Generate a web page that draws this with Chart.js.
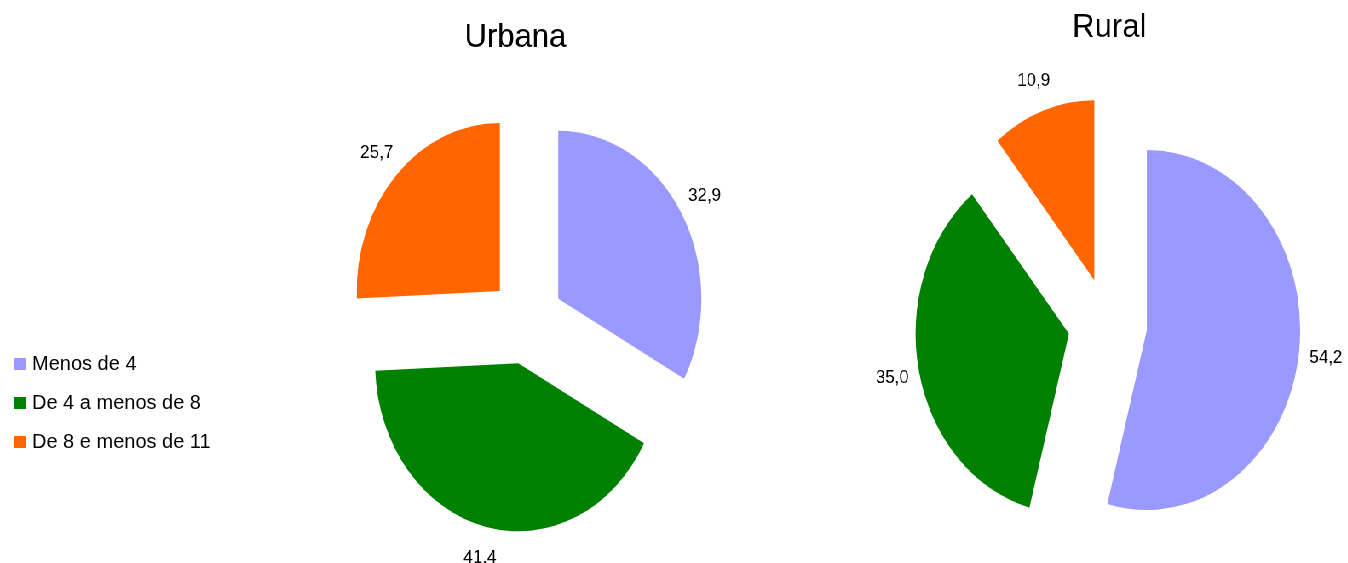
<!DOCTYPE html>
<html>
<head>
<meta charset="utf-8">
<script src="https://cdn.jsdelivr.net/npm/chart.js@4/dist/chart.umd.min.js"></script>
<style>
  html, body { margin: 0; padding: 0; background: #fff; }
  body { width: 1348px; height: 563px; position: relative; overflow: hidden; font-family: "Liberation Sans", Arial, sans-serif; }
  /* the original figure is squashed horizontally, so the pies are ellipses */
  #fig { position: absolute; left: 0; top: 0; width: 1582px; height: 563px; transform: scaleX(0.852); transform-origin: 0 0; }
  .pie { position: absolute; top: 0; height: 563px; }
  #legend { position: absolute; left: 14px; top: 352px; font-size: 20px; color: #000; }
  #legend .item { display: flex; align-items: center; height: 23px; margin-bottom: 16px; white-space: nowrap; }
  #legend .box { width: 12px; height: 12px; margin-right: 6px; }
</style>
</head>
<body>
<div id="fig">
  <div class="pie" style="left:0;width:900px"><canvas id="urbana"></canvas></div>
  <div class="pie" style="left:790px;width:792px"><canvas id="rural"></canvas></div>
</div>
<div id="legend"></div>
<script>
const categories = ['Menos de 4', 'De 4 a menos de 8', 'De 8 e menos de 11'];
const urbanaValues = [32.9, 41.4, 25.7];
const ruralValues = [54.2, 35.0, 10.9];
const sliceColors = ['#9999FF', '#008000', '#FF6600'];

const SQUASH = 0.852;   // same as the css scaleX on #fig
const TEXT_SX = 0.94;   // how wide the text looks in the picture
const FONT = '"Liberation Sans", Arial, sans-serif';

function fmt(v) {
  return v.toFixed(1).replace('.', ',');
}

// text drawn on the squashed canvas has to be stretched back
function drawText(ctx, txt, x, y) {
  ctx.save();
  ctx.translate(x, y);
  ctx.scale(TEXT_SX / SQUASH, 1);
  ctx.fillText(txt, 0, 0);
  ctx.restore();
}

const pieDecor = {
  id: 'pieDecor',
  afterDatasetUpdate(chart, args, opts) {
    // pull every slice out along its middle angle
    args.meta.data.forEach(arc => {
      const mid = (arc.startAngle + arc.endAngle) / 2;
      const d = arc.outerRadius * opts.explode;
      arc.x += Math.cos(mid) * d;
      arc.y += Math.sin(mid) * d;
    });
  },
  afterDatasetsDraw(chart, args, opts) {
    const ctx = chart.ctx;
    const values = chart.data.datasets[0].data;
    ctx.save();
    ctx.fillStyle = '#000';
    ctx.textAlign = 'center';
    ctx.textBaseline = 'middle';
    ctx.font = '18px ' + FONT;
    chart.getDatasetMeta(0).data.forEach((arc, i) => {
      const mid = (arc.startAngle + arc.endAngle) / 2;
      const r = arc.outerRadius + opts.labelGap;
      drawText(ctx, fmt(values[i]), arc.x + Math.cos(mid) * r, arc.y + Math.sin(mid) * r);
    });
    ctx.font = '33px ' + FONT;
    ctx.textBaseline = 'alphabetic';
    drawText(ctx, opts.title, opts.titleX, opts.titleY);
    ctx.restore();
  }
};

function makePie(id, values, title, padding, titleX, titleY) {
  return new Chart(document.getElementById(id), {
    type: 'pie',
    data: {
      labels: categories,
      datasets: [{
        data: values,
        backgroundColor: sliceColors,
        borderWidth: 0,
        clip: false
      }]
    },
    plugins: [pieDecor],
    options: {
      responsive: true,
      maintainAspectRatio: false,
      animation: false,
      events: [],
      layout: { padding: padding },
      plugins: {
        legend: { display: false },
        tooltip: { enabled: false },
        pieDecor: { explode: 0.258, labelGap: 32, title: title, titleX: titleX, titleY: titleY }
      }
    }
  });
}

makePie('urbana', urbanaValues, 'Urbana', { left: 450, right: 114, top: 153, bottom: 74 }, 605, 47);
makePie('rural', ruralValues, 'Rural', { left: 330, right: 102, top: 144, bottom: 59 }, 512, 37);

const legend = document.getElementById('legend');
categories.forEach((name, i) => {
  const item = document.createElement('div');
  item.className = 'item';
  const box = document.createElement('span');
  box.className = 'box';
  box.style.background = sliceColors[i];
  item.appendChild(box);
  item.appendChild(document.createTextNode(name));
  legend.appendChild(item);
});
</script>
</body>
</html>
